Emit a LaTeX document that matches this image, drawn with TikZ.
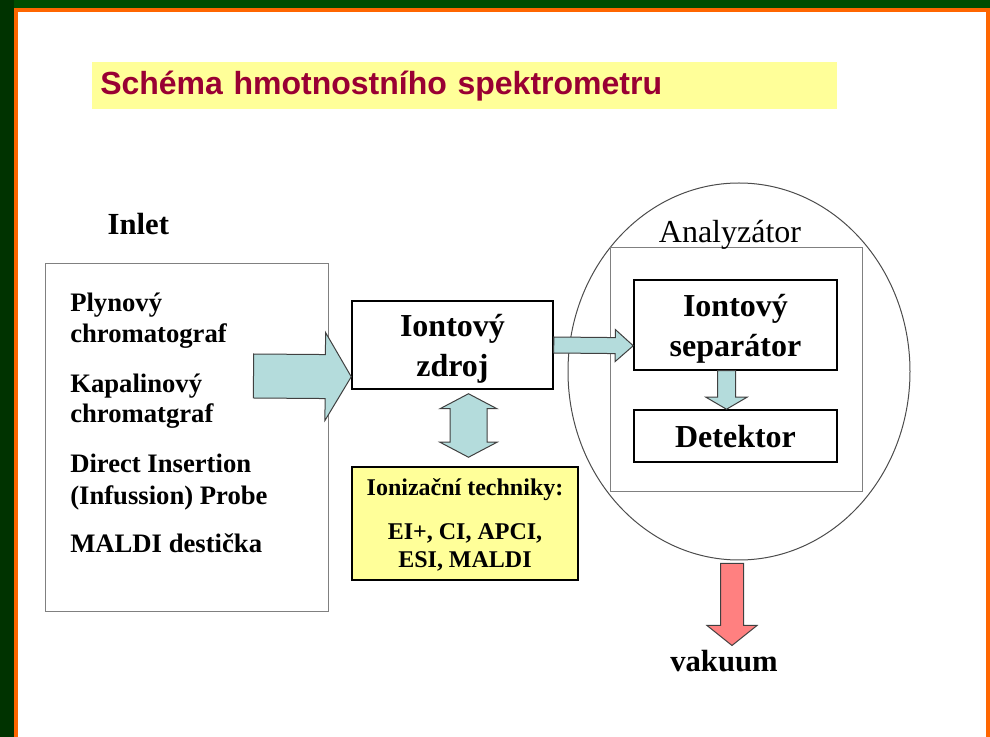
\documentclass[tikz,border=0pt]{standalone}
\usepackage{fontspec}
\setmainfont{Liberation Serif}
\newfontfamily\titlefont{Liberation Sans}
\usetikzlibrary{calc,shapes.geometric}

\definecolor{framegreen}{HTML}{004D00}
\definecolor{darkgreen}{HTML}{003300}
\definecolor{frameorange}{HTML}{FF6600}
\definecolor{titleyellow}{HTML}{FFFF99}
\definecolor{titlered}{HTML}{990033}
\definecolor{arrowblue}{HTML}{B4DCDC}
\definecolor{arrowred}{HTML}{FF8080}

% 1 px of the slide
\def\px{0.75pt}

% block arrow: style, tail, tip, shaft half width, head half width, head length
\newcommand{\blockarrow}[6]{%
  \coordinate (ahead) at ($(#3)!#6!(#2)$);
  \path[#1] ($(#2)!#4!90:(#3)$) -- ($(ahead)!#4!90:(#3)$) -- ($(ahead)!#5!90:(#3)$) -- (#3)
    -- ($(ahead)!#5!-90:(#3)$) -- ($(ahead)!#4!-90:(#3)$) -- ($(#2)!#4!-90:(#3)$) -- cycle;
}
% double block arrow: style, tip a, tip b, shaft half width, head half width, head length
\newcommand{\dblarrow}[6]{%
  \coordinate (aheadA) at ($(#2)!#6!(#3)$);
  \coordinate (aheadB) at ($(#3)!#6!(#2)$);
  \path[#1] (#2) -- ($(aheadA)!#5!90:(#3)$) -- ($(aheadA)!#4!90:(#3)$) -- ($(aheadB)!#4!90:(#3)$)
    -- ($(aheadB)!#5!90:(#3)$) -- (#3) -- ($(aheadB)!#5!-90:(#3)$) -- ($(aheadB)!#4!-90:(#3)$)
    -- ($(aheadA)!#4!-90:(#3)$) -- ($(aheadA)!#5!-90:(#3)$) -- cycle;
}

\tikzset{
  unitbox/.style={draw=black, line width=1.5*\px, fill=white, align=center, text depth=0pt,
    font=\bfseries\fontsize{24}{30}\selectfont},
  graybox/.style={draw=black!50, line width=1*\px},
  blockarr/.style={fill=arrowblue, draw=black!75, line width=1*\px, line join=miter},
  srcitem/.style={anchor=base west, inner sep=0pt, font=\bfseries\fontsize{20}{24}\selectfont},
}

\begin{document}
\begin{tikzpicture}[x=0.75pt, y=-0.75pt]
  \useasboundingbox (0,0) rectangle (990,737);

  % Ramecek
  \fill[darkgreen] (0,0) rectangle (14,737);
  \fill[framegreen] (14,0) rectangle (990,8);
  \fill[frameorange] (14,8) rectangle (18,737);
  \fill[frameorange] (14,8) rectangle (990,12);
  \fill[frameorange] (986,8) rectangle (990,737);

  % Nadpis
  \node[fill=titleyellow, anchor=north west, minimum height=47*\px, text width=729*\px,
    inner xsep=8*\px, inner ysep=0pt, align=left, text=titlered,
    font=\titlefont\bfseries\fontsize{24}{28}\selectfont] (title) at (92,62)
    {Schéma hmotnostního spektrometru};

  % Inlet
  \node[anchor=base west, font=\bfseries\fontsize{23}{27}\selectfont] (inletlabel) at (103,235) {Inlet};
  \node[graybox, minimum width=283*\px, minimum height=348*\px] (inlet) at (186.5,438) {};
  \foreach \yy/\line in {312/Plynový, 343/chromatograf, 393/Kapalinový, 423/chromatgraf,
      473/Direct Insertion, 505/(Infussion) Probe, 553/MALDI destička} {
    \node[srcitem] (src\yy) at (70,\yy) {\line};
  }

  % Iontovy zdroj a ionizacni techniky
  \node[unitbox, minimum width=201*\px, minimum height=88*\px] (zdroj) at (452.5,345) {Iontový\\zdroj};
  \node[draw=black, line width=1.5*\px, fill=titleyellow, minimum width=226*\px, minimum height=113*\px,
    align=center, text depth=0pt, font=\bfseries\fontsize{18}{21}\selectfont] (tech) at (465,523.5)
    {Ionizační techniky:\\[12pt]EI+, CI, APCI,\\ESI, MALDI};

  % Analyzator
  \node[ellipse, draw=black!70, line width=1*\px, inner sep=0pt,
    minimum width=342*\px, minimum height=377*\px] (anal) at (739,371.5) {};
  \node[graybox, minimum width=252*\px, minimum height=244*\px] (anbox) at (736,370) {};
  \node[anchor=base, font=\fontsize{24}{28}\selectfont] (anlabel) at (730,243) {Analyzátor};
  \node[unitbox, minimum width=203*\px, minimum height=90*\px] (sep) at (735.5,325) {Iontový\\separátor};
  \node[unitbox, minimum width=203*\px, minimum height=52*\px] (det) at (735.5,436) {Detektor};
  \node[anchor=base, font=\bfseries\fontsize{23}{27}\selectfont] (vak) at (724,672) {vakuum};

  % Sipky
  \coordinate (inTail) at ($(inlet.east)+(-75,-62)$);
  \coordinate (inTip) at ($(zdroj.south west)+(0,-13)$);
  \blockarrow{blockarr}{inTail}{inTip}{22*\px}{44*\px}{26*\px}

  \coordinate (sepTip) at ($(sep.south west)+(0,-25)$);
  \blockarrow{blockarr}{zdroj.east}{sepTip}{8*\px}{16*\px}{18*\px}

  \coordinate (detTail) at ($(sep.south)+(-9,0)$);
  \coordinate (detTip) at ($(det.north)+(-9,0)$);
  \blockarrow{blockarr}{detTail}{detTip}{9*\px}{20.5*\px}{12*\px}

  \coordinate (ionTop) at ($(zdroj.south)+(16,4)$);
  \coordinate (ionBot) at ($(tech.north)+(3.5,-9)$);
  \dblarrow{blockarr}{ionTop}{ionBot}{18.5*\px}{28.5*\px}{15*\px}

  \coordinate (vacTail) at ($(anal.south)+(-7,3)$);
  \coordinate (vacTip) at ($(anal.south)+(-7,85)$);
  \blockarrow{blockarr, fill=arrowred}{vacTail}{vacTip}{11.5*\px}{25*\px}{20*\px}
\end{tikzpicture}
\end{document}
